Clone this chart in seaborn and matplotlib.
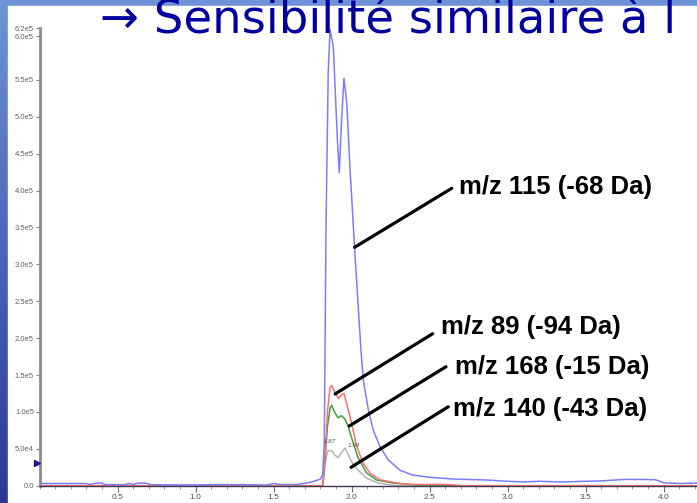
import numpy as np
import pandas as pd
import matplotlib
matplotlib.use("Agg")
import matplotlib.pyplot as plt
import seaborn as sns
from matplotlib.colors import LinearSegmentedColormap
from matplotlib.patches import Rectangle
from matplotlib.ticker import MultipleLocator

sns.set_theme(style="white")
plt.rcParams['font.family'] = ['Liberation Sans', 'DejaVu Sans']

# ---------------- data (retention time in min, intensity) ----------------
blue_t = [0.0, 0.15, 0.30, 0.32, 0.36, 0.40, 0.42, 0.55, 0.57, 0.60, 0.63, 0.68, 0.72,
          0.90, 1.00, 1.15, 1.30, 1.45, 1.50, 1.55, 1.65, 1.72, 1.76, 1.80, 1.815,
          1.825, 1.836, 1.85, 1.862, 1.883, 1.894, 1.908, 1.921, 1.936, 1.951, 1.969,
          1.99, 2.005, 2.018, 2.04, 2.06, 2.075, 2.107, 2.139, 2.182, 2.235, 2.31,
          2.39, 2.50, 2.65, 2.87, 3.0, 3.1, 3.2, 3.35, 3.5, 3.6, 3.75, 3.85, 3.95,
          4.0, 4.1, 4.2, 4.3]
blue_v = [3000, 3000, 3000, 1500, 3500, 3500, 1500, 1500, 3000, 1500, 3500, 3500, 1200,
          1000, 1000, 1500, 1500, 800, 3000, 1500, 1500, 4000, 6000, 9000, 15000,
          60000, 350000, 560000, 618000, 595000, 540000, 473000, 424000, 496000, 552000, 519000,
          428000, 375000, 326000, 251000, 184000, 143000, 103000, 75000, 53000, 35000, 21000,
          14500, 11400, 9000, 7700, 6000, 5000, 6000, 5000, 6000, 6500, 8500, 8500, 8000,
          4000, 3000, 3500, 3500]

red_t = [0.0, 1.815, 1.83, 1.845, 1.862, 1.872, 1.89, 1.915, 1.935, 1.951, 1.97,
         2.0, 2.033, 2.073, 2.118, 2.182, 2.291, 2.35, 2.45, 2.55, 2.65, 2.70, 4.3]
red_v = [0, 0, 40000, 100000, 133000, 136000, 128000, 118000, 123000, 125000, 110000,
         85000, 53000, 31000, 17000, 8000, 3600, 2000, 1500, 1800, 1200, 0, 0]

green_t = [0.0, 1.815, 1.83, 1.845, 1.862, 1.872, 1.89, 1.913, 1.935, 1.958, 1.975,
           2.0, 2.041, 2.097, 2.161, 2.265, 2.4, 2.5, 4.3]
green_v = [0, 0, 35000, 80000, 105000, 109000, 100000, 92000, 95000, 90000, 82000,
           65000, 38000, 17000, 7700, 3600, 1200, 0, 0]

gray_t = [0.0, 1.815, 1.83, 1.845, 1.86, 1.875, 1.89, 1.913, 1.935, 1.958, 1.975,
          2.0, 2.041, 2.097, 2.17, 2.25, 2.3, 4.3]
gray_v = [0, 0, 30000, 46000, 48000, 47000, 42000, 38000, 45000, 51000, 44000,
          32500, 21000, 10000, 3600, 1000, 0, 0]

trace_names = ["m/z 115", "m/z 89", "m/z 168", "m/z 140"]
trace_colors = ["#7c7cff", "#ff6e6e", "#3fa03f", "#b4b4b4"]

label_texts = ["m/z 115 (-68 Da)", "m/z 89 (-94 Da)", "m/z 168 (-15 Da)", "m/z 140 (-43 Da)"]
label_pos = [(2.69, 4.05e5), (2.573, 2.155e5), (2.663, 1.612e5), (2.652, 1.035e5)]
leader_start = [(2.642, 4.03e5), (2.52, 2.06e5), (2.605, 1.612e5), (2.62, 1.07e5)]
leader_end = [(2.019, 3.23e5), (1.894, 1.243e5), (1.985, 8.09e4), (1.996, 2.49e4)]

peak_labels = ["1.87", "1.94"]
peak_label_pos = [(1.862, 5.96e4), (2.015, 5.4e4)]

ytick_vals = [0, 5e4, 1e5, 1.5e5, 2e5, 2.5e5, 3e5, 3.5e5, 4e5, 4.5e5, 5e5, 5.5e5, 6.09e5, 6.2e5]
ytick_labels = ["0.0", "5.0e4", "1.0e5", "1.5e5", "2.0e5", "2.5e5", "3.0e5", "3.5e5",
                "4.0e5", "4.5e5", "5.0e5", "5.5e5", "6.0e5", "6.2e5"]
xtick_vals = [0.5, 1.0, 1.5, 2.0, 2.5, 3.0, 3.5, 4.0]
xtick_labels = ["0.5", "1.0", "1.5", "2.0", "2.5", "3.0", "3.5", "4.0"]

title_text = "\u2192 Sensibilit\u00e9 similaire \u00e0 l"

# ---------------- figure ----------------
W, H = 697, 503
fig = plt.figure(figsize=(W / 100, H / 100), dpi=100)

bg = fig.add_axes([0, 0, 1, 1], zorder=-10)
grad = np.linspace(0, 1, 256).reshape(-1, 1)
cmap = LinearSegmentedColormap.from_list("bg", ["#6f93d6", "#4a66ba", "#2b3896"])
bg.imshow(grad, aspect="auto", cmap=cmap, extent=[0, 1, 0, 1], origin="upper")
bg.add_patch(Rectangle((8 / W, 0), 1, (H - 6) / H, color="white", zorder=2))
bg.set_xlim(0, 1)
bg.set_ylim(0, 1)
bg.axis("off")

x0 = 39.6
y0 = 485.7
px_per_val = 36.9 / 5e4
ymax = 6.2e5
ytop = y0 - ymax * px_per_val
ax = fig.add_axes([x0 / W, (H - y0) / H, (W - x0) / W, (y0 - ytop) / H])
ax.set_facecolor("none")

frames = []
for name, tt, vv in zip(trace_names, [blue_t, red_t, green_t, gray_t],
                        [blue_v, red_v, green_v, gray_v]):
    frames.append(pd.DataFrame({"t": tt, "v": vv, "trace": name}))
df = pd.concat(frames, ignore_index=True)

order = ["m/z 140", "m/z 168", "m/z 89", "m/z 115"]
pal = dict(zip(trace_names, trace_colors))
for name in order:
    sub = df[df["trace"] == name]
    sns.lineplot(data=sub, x="t", y="v", color=pal[name], linewidth=1.1,
                 estimator=None, sort=False, ax=ax, legend=False)

ax.set_xlim(0, (W - x0) / 156.0)
ax.set_ylim(0, ymax)
ax.set_xlabel("")
ax.set_ylabel("")

for s in ["top", "right"]:
    ax.spines[s].set_visible(False)
ax.spines["left"].set_color("#8c8c8c")
ax.spines["left"].set_linewidth(2)
ax.spines["bottom"].set_color("#3c3c50")
ax.spines["bottom"].set_linewidth(1)

ax.set_yticks(ytick_vals)
ax.set_yticklabels(ytick_labels)
ax.set_xticks(xtick_vals)
ax.set_xticklabels(xtick_labels)
ax.xaxis.set_minor_locator(MultipleLocator(0.1))
ax.tick_params(axis="y", left=True, length=3, width=0.8, color="#808080",
               labelsize=5.5, labelcolor="#606060", pad=1)
ax.tick_params(axis="x", which="major", bottom=True, length=4, width=0.8, color="#707070",
               labelsize=6, labelcolor="#505050", pad=2)
ax.tick_params(axis="x", which="minor", bottom=True, length=2.5, width=0.7, color="#909090")

ax.plot([-0.019], [3.1e4], marker=">", color="#1a1a8c", ms=4.5, clip_on=False, zorder=5)

for txt, (lx, ly), (sx, sy), (ex, ey) in zip(label_texts, label_pos, leader_start, leader_end):
    ax.annotate("", xy=(ex, ey), xytext=(sx, sy),
                arrowprops=dict(arrowstyle="-", color="black", lw=2.3,
                                shrinkA=0, shrinkB=0))
    ax.text(lx, ly, txt, fontsize=18.5, fontweight="bold", color="black",
            ha="left", va="center")

for txt, (px, py) in zip(peak_labels, peak_label_pos):
    ax.text(px, py, txt, fontsize=4.5, style="italic", color="#505050",
            ha="center", va="center")

fig.text(100 / W, (H - 33.5) / H, title_text, fontsize=33.5, color="#0000a0",
         ha="left", va="baseline", zorder=20, family=["DejaVu Sans"])

fig.savefig("out.png", dpi=100)
